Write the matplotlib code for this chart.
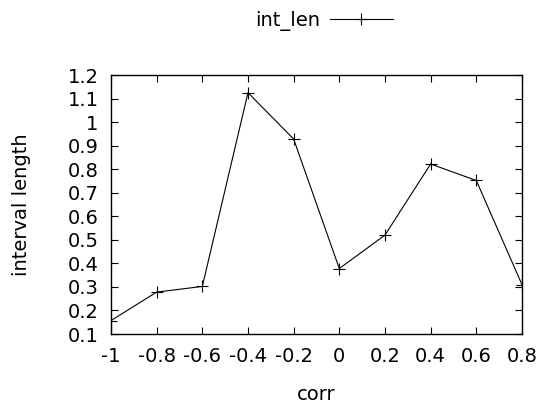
import matplotlib
matplotlib.use("Agg")
import matplotlib.pyplot as plt

corr = [-1, -0.8, -0.6, -0.4, -0.2, 0, 0.2, 0.4, 0.6, 0.8]
int_len = [0.157, 0.278, 0.302, 1.125, 0.928, 0.378, 0.52, 0.822, 0.752, 0.31]

xticks = [-1, -0.8, -0.6, -0.4, -0.2, 0, 0.2, 0.4, 0.6, 0.8]
yticks = [0.1, 0.2, 0.3, 0.4, 0.5, 0.6, 0.7, 0.8, 0.9, 1, 1.1, 1.2]

plt.rcParams['font.family'] = ['DejaVu Sans']
plt.rcParams['font.size'] = 14

fig = plt.figure(figsize=(5.42, 4.05), dpi=100)
ax = fig.add_axes([0.2048, 0.1753, 0.7582, 0.6395])

ax.plot(corr, int_len, color="black", linewidth=0.8, marker="+",
        markersize=8, markeredgewidth=0.8, label="int_len")

ax.set_xlim(-1, 0.8)
ax.set_ylim(0.1, 1.2)
ax.set_xticks(xticks)
ax.set_xticklabels(["%g" % v for v in xticks])
ax.set_yticks(yticks)
ax.set_yticklabels(["%g" % v for v in yticks])
ax.tick_params(direction="in", top=True, right=True, length=5, width=0.8)
ax.tick_params(axis="x", pad=9)
ax.tick_params(axis="y", pad=9)
for s in ax.spines.values():
    s.set_linewidth(1.0)

ax.set_xlabel("corr", labelpad=14)
ax.set_ylabel("interval length", labelpad=26)

leg = fig.legend(loc="center", bbox_to_anchor=(0.598, 0.948), frameon=False,
                 markerfirst=False, handlelength=3.25, handletextpad=0.5)

fig.savefig("out.png", dpi=100)
